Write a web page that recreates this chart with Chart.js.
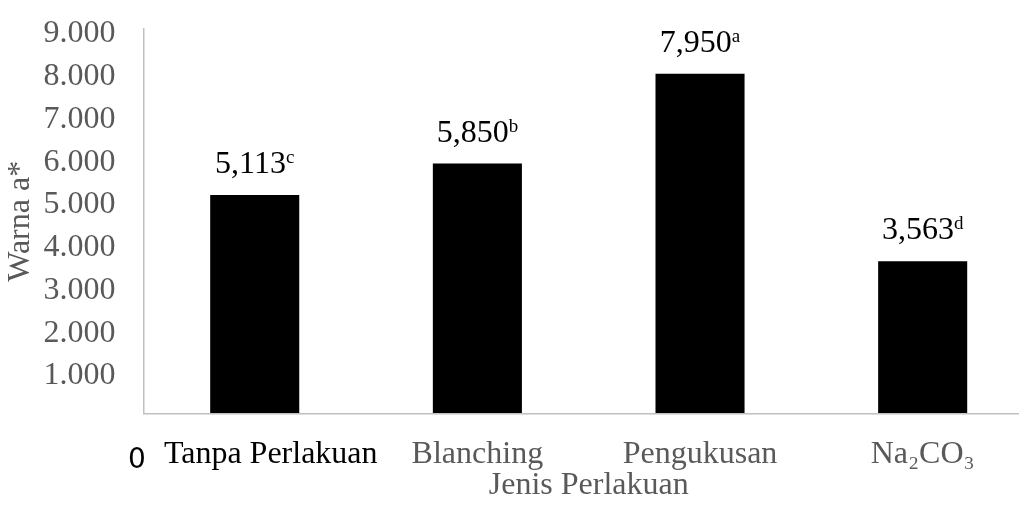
<!DOCTYPE html>
<html>
<head>
<meta charset="utf-8">
<script src="https://cdn.jsdelivr.net/npm/chart.js@4"></script>
<style>
  html, body { margin: 0; padding: 0; background: #fff; overflow: hidden; }
  #wrap { width: 1040px; height: 510px; }
</style>
</head>
<body>
<div id="wrap"><canvas id="chart"></canvas></div>
<script>
// values
const categories = ['Tanpa Perlakuan', 'Blanching', 'Pengukusan', 'Na\u2082CO\u2083'];
const warnaValues = [5.113, 5.850, 7.950, 3.563];
const letters = ['c', 'b', 'a', 'd'];
const yTickLabels = ['', '1.000', '2.000', '3.000', '4.000', '5.000', '6.000', '7.000', '8.000', '9.000'];
const zeroLabel = '0';

const SERIF = "'Liberation Serif', 'Times New Roman', serif";
const GREY = '#595959';
const AXIS = '#c0c0c0';

// value labels with a superscript letter, centred over each bar
const barLabels = {
  id: 'barLabels',
  afterDatasetsDraw(chart) {
    const ctx = chart.ctx;
    const meta = chart.getDatasetMeta(0);
    ctx.save();
    ctx.fillStyle = '#000';
    ctx.textBaseline = 'alphabetic';
    ctx.textAlign = 'left';
    meta.data.forEach((bar, i) => {
      const num = warnaValues[i].toFixed(3).replace('.', ',');
      ctx.font = '32px ' + SERIF;
      const w1 = ctx.measureText(num).width;
      ctx.font = '19px ' + SERIF;
      const w2 = ctx.measureText(letters[i]).width;
      const x0 = bar.x - (w1 + w2) / 2;
      const y = bar.y - 22;
      ctx.font = '32px ' + SERIF;
      ctx.fillText(num, x0, y);
      ctx.font = '19px ' + SERIF;
      ctx.fillText(letters[i], x0 + w1, y - 10);
    });
    // stray zero label sitting on the category row
    ctx.font = "28px 'DejaVu Sans', sans-serif";
    ctx.textAlign = 'center';
    ctx.fillText(zeroLabel, 137, 468);
    ctx.restore();
  }
};

new Chart(document.getElementById('chart'), {
  type: 'bar',
  data: {
    labels: categories,
    datasets: [{
      data: warnaValues,
      backgroundColor: '#000',
      borderWidth: 0,
      categoryPercentage: 1,
      barPercentage: 0.4
    }]
  },
  options: {
    responsive: true,
    maintainAspectRatio: false,
    animation: false,
    layout: { padding: { top: 29, left: 1, right: 6, bottom: 13 } },
    plugins: {
      legend: { display: false },
      tooltip: { enabled: false }
    },
    scales: {
      x: {
        grid: { display: true, drawOnChartArea: false, drawTicks: true, tickLength: 21, color: 'rgba(0,0,0,0)' },
        border: { display: true, color: AXIS, width: 1.5 },
        ticks: {
          padding: 4,
          maxRotation: 0,
          autoSkip: false,
          color: (c) => c.index === 0 ? '#000' : GREY,
          font: { family: SERIF, size: 32, lineHeight: 1 },
          // the first label sits a little right of its bar, away from the "0"
          callback: (v, i) => (i === 0 ? '    ' : '') + categories[i]
        },
        title: {
          display: true,
          text: 'Jenis Perlakuan',
          color: GREY,
          padding: 0,
          font: { family: SERIF, size: 32, lineHeight: 0.7 }
        }
      },
      y: {
        min: 0,
        max: 9,
        grid: { display: true, drawOnChartArea: false, drawTicks: true, tickLength: 24, color: 'rgba(0,0,0,0)' },
        border: { display: true, color: AXIS, width: 1.5 },
        ticks: {
          stepSize: 1,
          autoSkip: false,
          padding: 4,
          labelOffset: 5,
          color: GREY,
          font: { family: SERIF, size: 32 },
          callback: (v, i) => yTickLabels[i]
        },
        title: {
          display: true,
          text: 'Warna a*',
          color: GREY,
          padding: 0,
          font: { family: SERIF, size: 32 }
        }
      }
    }
  },
  plugins: [barLabels]
});
</script>
</body>
</html>
